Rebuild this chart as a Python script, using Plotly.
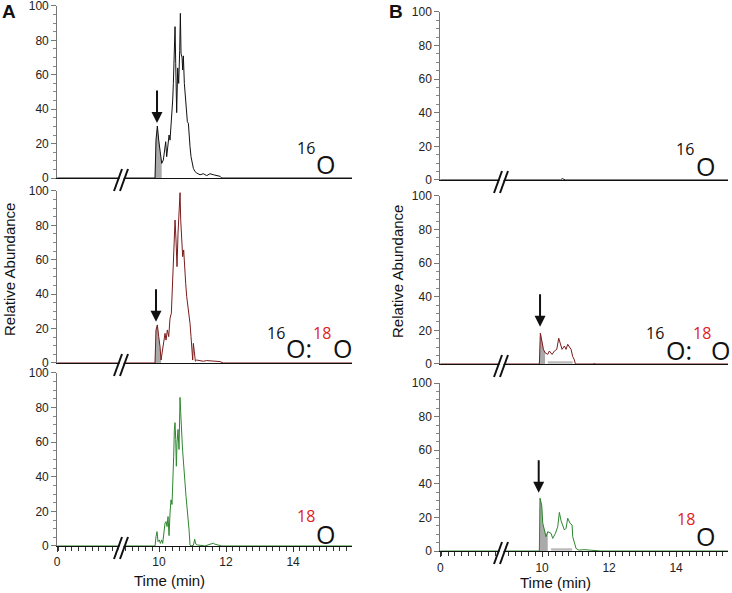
import plotly.graph_objects as go

W, H = 732, 593

# ---------------- data (time in min, relative abundance in %) ----------------
# Panel A, 16O
a16_t = [0, 9.881, 9.910, 9.950, 9.990, 10.030, 10.080, 10.129, 10.159, 10.199, 10.229,
         10.259, 10.299, 10.328, 10.348, 10.378, 10.408, 10.428, 10.458, 10.478, 10.498,
         10.527, 10.557, 10.587, 10.617, 10.637, 10.657, 10.687, 10.706, 10.726, 10.756,
         10.786, 10.816, 10.846, 10.876, 10.896, 10.925, 10.955, 10.985, 11.025, 11.075,
         11.124, 11.224, 11.323, 11.423, 11.522, 11.622, 11.721, 11.821, 11.871, 15.8]
a16_y = [0, 0, 22, 30.2, 22, 14.3, 8.5, 10.5, 16.3, 21.1, 12.4,
         18.2, 25, 22, 26.9, 35.7, 45.3, 55, 74.4, 88, 66.7,
         38, 64, 55, 74, 95.7, 72.5, 70, 62.8, 71, 55,
         47.3, 39.5, 32.7, 31.8, 24, 18.2, 12.4, 8.5, 5.6, 3.7,
         2.9, 1.9, 2.5, 1.4, 2.5, 1.9, 1.5, 1, 0, 0]

# Panel A, 16O:18O
a1618_t = [0, 9.881, 9.910, 9.950, 9.990, 10.030, 10.060, 10.099, 10.129, 10.179, 10.209,
           10.249, 10.289, 10.328, 10.368, 10.398, 10.428, 10.458, 10.478, 10.507, 10.537,
           10.567, 10.597, 10.627, 10.647, 10.677, 10.706, 10.736, 10.766, 10.796, 10.826,
           10.866, 10.896, 10.925, 10.955, 10.985, 11.005, 11.025, 11.055, 11.085, 11.124,
           11.224, 11.323, 11.423, 11.522, 11.622, 11.721, 11.821, 11.920, 15.8]
a1618_y = [0, 0, 19.2, 22.1, 15.3, 9.5, 1.7, 7.6, 9.5, 17.2, 13.3,
           19.2, 15.3, 26, 28.9, 42.4, 61.8, 77.3, 83.1, 71.5, 56,
           75.4, 85, 99, 83, 73.4, 61.8, 65.7, 52.1, 46.3, 38.6,
           32.8, 27, 23, 15.3, 9.5, 1.7, 11.4, 5.6, 1, 1.7,
           1.4, 1, 1.4, 1.2, 1.4, 1.1, 0.8, 0, 0]

# Panel A, 18O
a18_t = [0, 9.881, 9.910, 9.940, 9.970, 10.010, 10.040, 10.080, 10.109, 10.149, 10.179,
         10.209, 10.239, 10.269, 10.299, 10.328, 10.358, 10.388, 10.418, 10.438, 10.458,
         10.478, 10.498, 10.517, 10.537, 10.567, 10.597, 10.627, 10.647, 10.667, 10.696,
         10.716, 10.746, 10.776, 10.806, 10.836, 10.866, 10.896, 10.925, 10.955, 11.025,
         11.065, 11.095, 11.144, 11.224, 11.373, 11.522, 11.622, 11.672, 11.771, 11.871, 15.8]
a18_y = [0, 0, 5.4, 8.3, 2.5, 3.5, 1.5, 3.5, 1.5, 7.4, 13.2,
         14.1, 11.2, 17, 6, 19, 26.7, 24, 36.4, 51.9, 67.4,
         71.3, 61.6, 46.1, 59.7, 67.4, 55.8, 85.9, 77.2, 63.6, 57.8,
         52, 40.3, 36.4, 28.7, 22.9, 17, 9.3, 0.6, 0, 0.4,
         3.9, 1.2, 0.6, 0.4, 0, 1, 1.6, 1, 0.4, 0, 0]

# Panel B, 16O
b16_t = [0, 10.55, 10.60, 10.65, 10.70, 15.8]
b16_y = [0, 0, 0.8, 0.5, 0, 0]

# Panel B, 16O:18O
b1618_t = [0, 9.920, 9.950, 10.000, 10.040, 10.090, 10.169, 10.219, 10.299, 10.368, 10.438,
           10.498, 10.547, 10.597, 10.667, 10.716, 10.766, 10.816, 10.866, 10.915, 10.965,
           10.995, 11.540, 11.562, 11.590, 15.8]
b1618_y = [0, 0, 18.3, 13, 8.7, 6.7, 5.7, 7.7, 5.7, 7.7, 8.7,
           15.3, 12.3, 8.7, 10.7, 8.7, 11.7, 9.7, 8.7, 4.4, 2.4,
           0, 0, 0.6, 0, 0]

# Panel B, 18O
b18_t = [0, 9.920, 9.940, 9.990, 10.020, 10.070, 10.119, 10.169, 10.269, 10.318, 10.398,
         10.468, 10.517, 10.567, 10.617, 10.667, 10.716, 10.766, 10.836, 10.896, 10.915,
         10.965, 11.015, 11.100, 11.250, 11.450, 11.711, 11.750, 15.8]
b18_y = [0, 0, 31.4, 27, 16.5, 12.5, 8.5, 11.5, 10.5, 7.5, 10.5,
         14.5, 23, 18, 14.5, 12.5, 13.5, 19.5, 16.5, 15.5, 8.5,
         5.5, 1.5, 0.5, 0.8, 0.5, 0.4, 0, 0]

# integrated (grey) region end times and arrow positions (time, abundance)
fill_end = [10.09, 10.06, None, None, 10.12, 10.18]
band_end = [None, None, None, None, 10.92, 10.90]
arrows = [(9.94, 32), (9.91, 24), None, None, (9.94, 22.2), (9.90, 34.7)]

x_ticks = [0, 10, 12, 14]
x_tick_text = ["0", "10", "12", "14"]
y_ticks = [0, 20, 40, 60, 80, 100]

BLACK = "#111111"
MAROON = "#7a1c1c"
GREEN = "#2e862e"
GREY = "#aaaaaa"

# ---------------- broken time axis: 0 is drawn next to the break ----------------
OFFSET = 6.96


def disp(ts):
    return [t + OFFSET if t < 5 else t for t in ts]


panels = [
    (a16_t, a16_y, BLACK),
    (a1618_t, a1618_y, MAROON),
    (a18_t, a18_y, GREEN),
    (b16_t, b16_y, BLACK),
    (b1618_t, b1618_y, MAROON),
    (b18_t, b18_y, GREEN),
]

# subplot domains (paper fractions)
x_dom = [[0.0781, 0.4809]] * 3 + [[0.6014, 0.9945]] * 3
x_rng = [[OFFSET, 15.76]] * 3 + [[OFFSET, 15.55]] * 3
y_dom = [[0.6998, 0.9899], [0.3879, 0.6780], [0.0793, 0.3710],
         [0.6965, 0.9798], [0.3862, 0.6695], [0.0708, 0.3541]]

fig = go.Figure()

for i, (ts, ys, col) in enumerate(panels):
    xa = "x" if i == 0 else f"x{i+1}"
    ya = "y" if i == 0 else f"y{i+1}"
    dx = disp(ts)
    if fill_end[i] is not None:
        fx = [x for x, t in zip(dx, ts) if 5 < t <= fill_end[i]]
        fy = [y for y, t in zip(ys, ts) if 5 < t <= fill_end[i]]
        fig.add_trace(go.Scatter(x=fx, y=fy, mode="lines", fill="tozeroy",
                                 fillcolor=GREY, line=dict(color=GREY, width=0.5),
                                 xaxis=xa, yaxis=ya, hoverinfo="skip", showlegend=False))
    if band_end[i] is not None:
        bx = [x for x, t in zip(dx, ts) if fill_end[i] <= t <= band_end[i]]
        fig.add_trace(go.Scatter(x=bx, y=[0.9] * len(bx), mode="lines",
                                 line=dict(color="#bbbbbb", width=2.5),
                                 xaxis=xa, yaxis=ya, hoverinfo="skip", showlegend=False))
    fig.add_trace(go.Scatter(x=dx, y=ys, mode="lines", line=dict(color=col, width=1),
                             xaxis=xa, yaxis=ya, showlegend=False))

layout = dict(width=W, height=H, margin=dict(l=0, r=0, t=0, b=0, pad=0, autoexpand=False),
              paper_bgcolor="white", plot_bgcolor="white",
              font=dict(family="Liberation Sans, Arial, sans-serif", color="#111"))

for i in range(6):
    n = "" if i == 0 else str(i + 1)
    bottom = i in (2, 5)
    xa = dict(domain=x_dom[i], range=x_rng[i], anchor=f"y{n}", showgrid=False,
              zeroline=False, showline=True, linecolor=BLACK, linewidth=1.2,
              automargin=False, ticklabeloverflow="allow")
    if bottom:
        xa.update(tickmode="array", tickvals=disp(x_ticks), ticktext=x_tick_text,
                  ticks="outside", ticklen=5, tickcolor="#333", tickwidth=1,
                  tickfont=dict(size=12, color="#222"),
                  minor=dict(dtick=0.2, tick0=0, ticks="outside", ticklen=4,
                             tickcolor="#333", tickwidth=1))
    else:
        xa.update(showticklabels=False, ticks="")
    ya = dict(domain=y_dom[i], range=[0, 100], anchor=f"x{n}", showgrid=False,
              zeroline=False, showline=True, linecolor="#777", linewidth=1,
              tickmode="array", tickvals=y_ticks, ticks="outside", ticklen=5,
              tickcolor="#777", tickfont=dict(size=12, color="#222"), automargin=False,
              ticklabeloverflow="allow",
              minor=dict(dtick=5, ticks="outside", ticklen=3, tickcolor="#888"))
    layout[f"xaxis{n}"] = xa
    layout[f"yaxis{n}"] = ya

fig.update_layout(**layout)


def px(x, y):
    return x / W, 1 - y / H


shapes = []
# axis-break marks (decoration, pixel geometry)
breaks = [(121, 178), (121, 363), (121, 546), (501, 180), (501, 364), (501, 551)]
for cx, base in breaks:
    p = [px(cx - 6, base + 13), px(cx + 2, base - 9), px(cx + 6, base - 9), px(cx - 2, base + 13)]
    path = "M {} {} L {} {} L {} {} L {} {} Z".format(*[v for q in p for v in q])
    shapes.append(dict(type="path", xref="paper", yref="paper", path=path,
                       fillcolor="white", line=dict(width=0)))
    for off in (0, 6):
        x0, y0 = px(cx - 7 + off, base + 13)
        x1, y1 = px(cx + 1 + off, base - 9)
        shapes.append(dict(type="line", xref="paper", yref="paper", x0=x0, y0=y0,
                           x1=x1, y1=y1, line=dict(color=BLACK, width=2)))
fig.update_layout(shapes=shapes)

ann = []
for i, a in enumerate(arrows):
    if a is None:
        continue
    n = "" if i == 0 else str(i + 1)
    ann.append(dict(x=a[0], y=a[1], xref=f"x{n}", yref=f"y{n}", text="", showarrow=True,
                    ax=0, ay=-34, arrowhead=2, arrowsize=1.1, arrowwidth=2,
                    arrowcolor=BLACK))

ISO = "Open Sans, Noto Sans, sans-serif"
RED = "#e0201c"


def label(x, y, text, size, color=BLACK, family=ISO, **kw):
    xx, yy = px(x, y)
    d = dict(x=xx, y=yy, xref="paper", yref="paper", text=text, showarrow=False,
             xanchor="center", yanchor="middle", font=dict(size=size, color=color, family=family))
    d.update(kw)
    ann.append(d)


# isotope labels
label(306, 148, "16", 16)
label(325, 164, "O", 25)
label(276, 333, "16", 16)
label(299, 348, "O:", 25)
label(322, 333, "18", 16, RED)
label(342, 348, "O", 25)
label(306, 516, "18", 16, RED)
label(325, 534, "O", 25)
label(685, 149, "16", 16)
label(705, 166, "O", 25)
label(655, 333, "16", 16)
label(679, 350, "O:", 25)
label(702, 333, "18", 16, RED)
label(720, 350, "O", 25)
label(686, 519, "18", 16, RED)
label(705, 536, "O", 25)

SANS = "Liberation Sans, Arial, sans-serif"
label(9, 270, "Relative Abundance", 15, family=SANS, textangle=-90)
label(398, 272, "Relative Abundance", 15, family=SANS, textangle=-90)
label(169, 580, "Time (min)", 15, family=SANS)
label(555, 582, "Time (min)", 15, family=SANS)
label(9, 12, "<b>A</b>", 19, family=SANS)
label(396, 12, "<b>B</b>", 19, family=SANS)

fig.update_layout(annotations=ann)

PAGE_FIX = (
    "document.documentElement.style.cssText='margin:0;padding:0;overflow:hidden;height:593px;';"
    "document.body.style.cssText='margin:0;padding:0;overflow:hidden;height:593px;';"
    "var gd=document.querySelector('.plotly-graph-div');"
    "gd.style.position='absolute';gd.style.left='0px';gd.style.top='0px';"
)
fig.write_html("out.html", config={"displayModeBar": False}, post_script=PAGE_FIX)
